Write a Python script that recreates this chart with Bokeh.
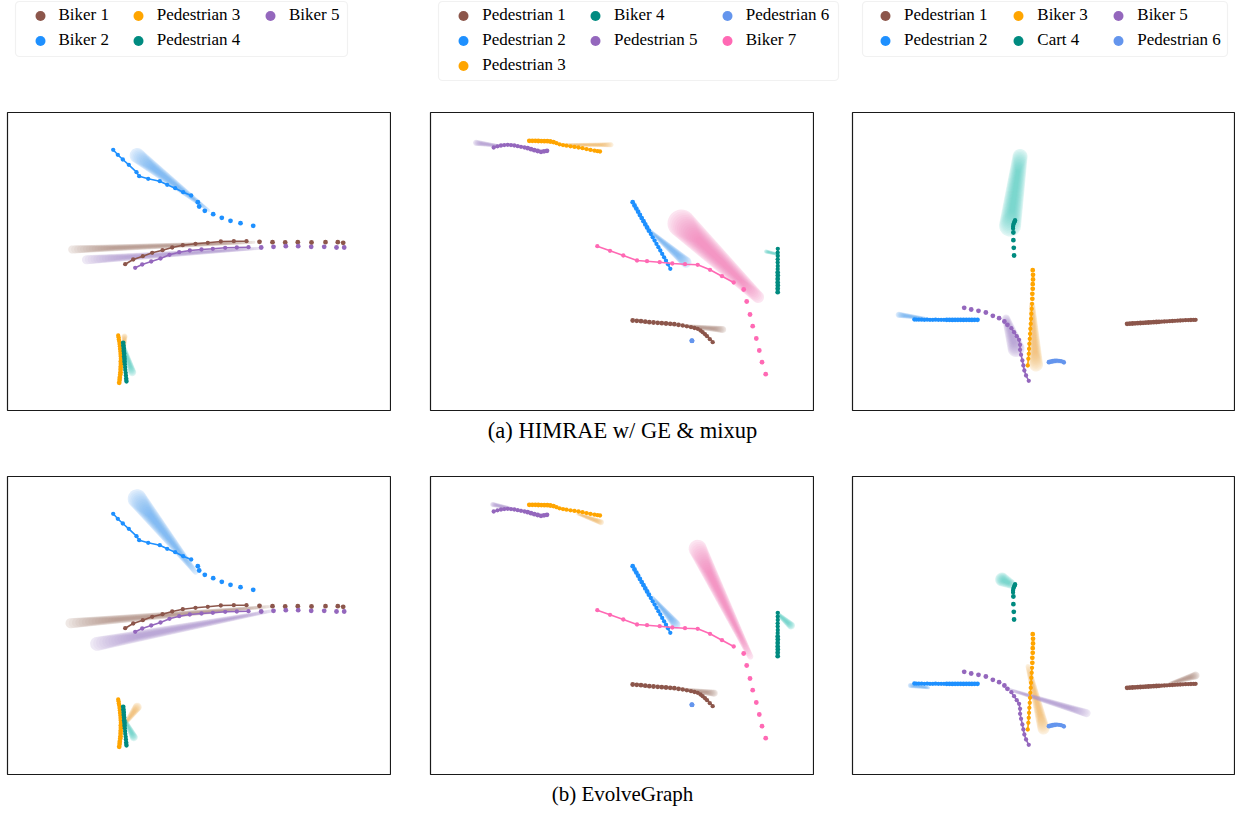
import math
from bokeh.plotting import figure
from bokeh.models import Range1d, Legend, LegendItem, Title, ColumnDataSource, BoxAnnotation
from bokeh.layouts import column, row
from bokeh.embed import file_html
from bokeh.resources import INLINE

# ---------------------------------------------------------------- data
# Scene A (left column)
a_names = ["Biker 1", "Biker 2", "Pedestrian 3", "Pedestrian 4", "Biker 5"]
a_ids = [1, 2, 3, 4, 5]

a_biker1_past_x = [335.7, 330.3, 318.0, 304.0, 290.3, 277.7, 265.0, 252.0]
a_biker1_past_y = [167.7, 168.3, 168.3, 168.0, 168.3, 168.0, 168.3, 168.7]
a_biker1_fut_x = [239.0, 226.3, 213.3, 200.3, 188.0, 175.3, 164.7, 155.0, 144.7, 135.3, 125.7, 117.7]
a_biker1_fut_y = [169.3, 169.3, 169.0, 167.7, 166.7, 165.3, 163.0, 160.3, 157.7, 154.3, 151.0, 146.3]

a_biker2_past_x = [245.7, 233.0, 223.0, 214.3, 205.7, 197.3, 191.7, 190.3]
a_biker2_past_y = [184.7, 187.3, 189.7, 192.7, 196.3, 199.7, 204.0, 208.3]
a_biker2_fut_x = [183.7, 175.7, 167.7, 159.7, 152.3, 140.7, 131.7, 129.0, 121.3, 115.3, 110.3, 105.7]
a_biker2_fut_y = [215.0, 218.3, 222.3, 225.7, 229.3, 231.7, 234.3, 238.3, 245.7, 251.0, 255.7, 260.7]

a_ped3_past_x = [111.7, 112.1, 112.3, 112.8, 113.0, 113.1, 113.2, 113.4, 113.3]
a_ped3_past_y = [27.7, 30.5, 33.0, 35.9, 38.3, 41.2, 43.7, 46.5, 49.0]
a_ped3_fut_x = [113.3, 113.1, 113.0, 112.9, 112.5, 112.4, 112.0, 111.8, 111.3, 111.1, 110.7]
a_ped3_fut_y = [51.7, 54.2, 56.5, 59.1, 61.5, 64.2, 66.5, 69.1, 71.0, 73.2, 75.0]

a_ped4_past_x = [115.7, 115.9, 116.2, 116.3, 116.6, 116.7, 117.0, 117.1]
a_ped4_past_y = [67.7, 64.9, 62.3, 59.4, 56.9, 54.0, 51.5, 48.7]
a_ped4_fut_x = [117.3, 117.6, 117.8, 118.2, 118.4, 118.7, 118.8, 119.0]
a_ped4_fut_y = [46.2, 43.3, 40.6, 37.7, 35.0, 32.3, 30.6, 29.0]

a_biker5_past_x = [336.7, 329.0, 316.7, 303.7, 290.7, 278.3, 266.0, 253.7]
a_biker5_past_y = [163.0, 163.0, 163.7, 163.7, 164.3, 164.3, 163.7, 163.0]
a_biker5_fut_x = [241.0, 229.3, 217.7, 205.3, 194.0, 182.3, 171.7, 162.0, 153.0, 143.7, 134.7, 127.7]
a_biker5_fut_y = [163.3, 163.0, 162.7, 161.7, 161.0, 160.0, 158.3, 155.7, 152.0, 149.0, 146.0, 142.7]

# predicted densities: agent id, wide end (x0, y0), narrow end (x1, y1), widths w0, w1
a_top_dens_id = [1, 5, 2, 3, 4]
a_top_dens_x0 = [64.7, 79.0, 129.7, 117.0, 124.7]
a_top_dens_y0 = [161.0, 150.7, 255.0, 74.0, 38.3]
a_top_dens_x1 = [246.3, 253.0, 201.3, 116.3, 116.3]
a_top_dens_y1 = [168.3, 162.3, 200.0, 58.3, 65.0]
a_top_dens_w0 = [8, 9, 15, 6, 8]
a_top_dens_w1 = [3, 3, 3, 3, 3]

a_bot_dens_id = [1, 5, 2, 3, 4]
a_bot_dens_x0 = [63.0, 89.7, 129.7, 129.7, 126.3]
a_bot_dens_y0 = [151.3, 130.7, 275.7, 67.3, 37.3]
a_bot_dens_x1 = [263.0, 266.3, 188.0, 116.3, 117.0]
a_bot_dens_y1 = [168.0, 164.0, 202.3, 49.0, 55.7]
a_bot_dens_w0 = [10, 14, 19, 9, 8]
a_bot_dens_w1 = [3, 3, 5, 3, 3]

# Scene B (middle column)
b_names = ["Pedestrian 1", "Pedestrian 2", "Pedestrian 3", "Biker 4", "Pedestrian 5", "Pedestrian 6", "Biker 7"]
b_ids = [1, 2, 3, 4, 5, 6, 7]

b_ped1_past_x = [202.2, 206.3, 210.5, 214.7, 218.8, 223.0, 227.2, 231.3, 235.5, 239.7, 243.8, 248.0]
b_ped1_past_y = [90.0, 89.7, 89.3, 88.8, 88.3, 88.0, 87.7, 87.3, 87.0, 86.7, 86.3, 85.7]
b_ped1_fut_x = [252.2, 256.3, 260.5, 264.0, 267.2, 270.0, 272.2, 274.5, 276.5, 279.3, 282.2]
b_ped1_fut_y = [85.0, 84.2, 83.3, 82.5, 81.7, 80.0, 78.3, 76.3, 74.3, 71.3, 68.3]

b_ped2_past_x = [202.2, 204.0, 205.8, 207.6, 209.4, 211.2, 213.0, 214.8, 216.6, 218.4]
b_ped2_past_y = [208.3, 205.0, 201.9, 198.8, 195.6, 192.4, 189.3, 186.1, 183.0, 179.8]
b_ped2_fut_x = [220.3, 222.2, 224.1, 226.0, 227.9, 229.8, 231.7, 233.6, 235.5, 237.5, 239.8]
b_ped2_fut_y = [176.5, 173.2, 169.9, 166.6, 163.3, 160.0, 156.6, 153.2, 149.8, 146.2, 141.7]

b_ped3_past_x = [98.8, 101.8, 104.8, 107.8, 110.8, 113.8, 116.8, 119.8, 123.0]
b_ped3_past_y = [269.7, 269.7, 269.7, 269.5, 269.4, 269.3, 269.3, 269.0, 268.4]
b_ped3_fut_x = [126.0, 129.0, 132.5, 136.0, 140.0, 144.0, 148.0, 152.0, 156.0, 160.0, 164.0, 167.0, 169.5]
b_ped3_fut_y = [267.3, 266.2, 265.4, 264.8, 264.2, 263.6, 263.0, 262.3, 261.4, 260.6, 259.8, 259.3, 259.0]

b_biker4_past_x = [347.2, 347.2, 347.3, 347.2, 347.2, 347.3, 347.2]
b_biker4_past_y = [118.3, 121.8, 125.0, 128.1, 131.6, 134.9, 138.0]
b_biker4_fut_x = [347.2, 347.3, 347.2, 347.2, 347.3, 347.2, 347.3]
b_biker4_fut_y = [141.5, 144.6, 148.1, 151.2, 154.5, 157.9, 161.7]

b_ped5_past_x = [116.5, 113.5, 110.5, 107.2, 103.8, 100.5, 97.2]
b_ped5_past_y = [259.7, 259.2, 258.7, 259.5, 260.3, 261.3, 262.3]
b_ped5_fut_x = [94.0, 90.5, 87.2, 83.8, 80.5, 77.2, 73.8, 70.5, 67.0, 63.2]
b_ped5_fut_y = [263.0, 263.7, 264.3, 265.0, 265.4, 265.7, 265.4, 265.0, 264.2, 263.0]

b_ped6_past_x = [261.3, 261.5]
b_ped6_past_y = [69.8, 69.7]
b_ped6_fut_x = [261.5, 261.7]
b_ped6_fut_y = [69.7, 69.6]

b_biker7_past_x = [335.2, 331.5, 328.8, 325.8, 322.2, 319.5, 316.2, 313.2]
b_biker7_past_y = [36.3, 48.3, 60.0, 72.0, 84.3, 96.0, 109.0, 121.0]
b_biker7_fut_x = [303.2, 291.5, 279.5, 267.2, 254.5, 241.8, 229.2, 216.5, 206.5, 192.8, 179.5, 166.8]
b_biker7_fut_y = [128.0, 134.3, 140.7, 145.7, 146.3, 147.0, 148.3, 149.3, 150.0, 155.0, 159.7, 164.3]

b_top_dens_id = [7, 2, 4, 1, 3, 5]
b_top_dens_x0 = [251.0, 255.5, 335.5, 292.2, 180.5, 45.5]
b_top_dens_y0 = [187.0, 148.3, 159.0, 81.0, 265.7, 267.7]
b_top_dens_x1 = [327.5, 217.2, 348.0, 250.5, 133.8, 70.5]
b_top_dens_y1 = [113.5, 181.7, 156.0, 85.0, 265.7, 264.3]
b_top_dens_w0 = [28, 11, 4, 7, 5, 6]
b_top_dens_w1 = [12, 3, 3, 3, 3, 3]

b_bot_dens_id = [7, 2, 4, 1, 3, 5]
b_bot_dens_x0 = [267.2, 245.5, 360.5, 283.8, 170.5, 62.2]
b_bot_dens_y0 = [225.7, 150.0, 149.0, 81.3, 252.3, 270.0]
b_bot_dens_x1 = [319.8, 222.2, 346.5, 247.2, 147.2, 78.8]
b_bot_dens_y1 = [118.0, 177.3, 161.3, 85.7, 260.7, 266.7]
b_bot_dens_w0 = [18, 9, 8, 7, 6, 5]
b_bot_dens_w1 = [6, 3, 4, 3, 3, 3]

# Scene C (right column)
c_names = ["Pedestrian 1", "Pedestrian 2", "Biker 3", "Cart 4", "Biker 5", "Pedestrian 6"]
c_ids = [1, 2, 3, 4, 5, 6]

c_ped1_past_x = [275.3, 278.0, 280.7, 283.3, 286.0, 288.7, 291.3, 294.0, 296.7, 299.3, 302.0, 304.7, 307.3]
c_ped1_past_y = [86.7, 86.8, 87.0, 87.2, 87.3, 87.5, 87.7, 87.8, 88.0, 88.2, 88.3, 88.5, 88.7]
c_ped1_fut_x = [310.0, 312.7, 315.3, 318.0, 320.7, 323.3, 326.0, 328.7, 331.3, 334.0, 336.7, 339.3, 342.0, 344.0]
c_ped1_fut_y = [88.8, 89.0, 89.2, 89.3, 89.5, 89.7, 89.8, 90.0, 90.2, 90.3, 90.4, 90.5, 90.6, 90.7]

c_ped2_past_x = [125.3, 122.5, 119.7, 116.9, 114.1, 111.3, 108.5, 105.7, 102.9, 100.1, 97.3, 94.5]
c_ped2_past_y = [90.7, 90.7, 90.6, 90.7, 90.7, 90.6, 90.7, 90.7, 90.7, 90.6, 90.7, 90.7]
c_ped2_fut_x = [91.7, 88.9, 86.1, 83.3, 80.5, 77.7, 74.9, 72.1, 69.3, 66.5, 64.0, 62.0]
c_ped2_fut_y = [90.7, 90.7, 90.7, 90.8, 90.7, 90.7, 90.8, 90.7, 90.8, 90.8, 90.9, 91.0]

c_biker3_past_x = [180.7, 181.0, 181.0, 180.7, 180.7, 180.3, 180.3]
c_biker3_past_y = [140.3, 135.7, 131.0, 126.3, 121.7, 116.7, 111.7]
c_biker3_fut_x = [180.0, 179.7, 179.3, 179.0, 178.7, 178.3, 178.0, 177.7, 177.3, 177.0, 176.7, 176.3, 175.7]
c_biker3_fut_y = [106.7, 101.7, 96.7, 91.7, 86.7, 81.7, 76.7, 71.7, 66.7, 61.7, 56.7, 51.7, 45.0]

c_cart4_past_x = [162.0, 161.7, 161.3, 161.3]
c_cart4_past_y = [155.0, 162.7, 170.3, 178.0]
c_cart4_fut_x = [161.0, 161.0, 161.3, 161.7, 162.3, 162.7, 163.0]
c_cart4_fut_y = [182.0, 184.0, 185.7, 187.0, 188.3, 189.3, 190.3]

c_biker5_past_x = [112.0, 119.0, 126.3, 133.7, 140.7, 147.0, 152.3, 155.3]
c_biker5_past_y = [102.7, 101.0, 99.7, 98.0, 94.7, 92.3, 89.0, 85.7]
c_biker5_fut_x = [159.3, 162.0, 164.7, 167.0, 168.0, 168.0, 169.0, 170.3, 171.3, 172.3, 174.0, 176.7]
c_biker5_fut_y = [82.3, 78.3, 74.3, 70.7, 65.7, 60.7, 55.7, 50.0, 45.0, 40.0, 35.0, 29.7]

c_ped6_past_x = [197.0, 199.0, 201.0, 203.0]
c_ped6_past_y = [48.3, 48.8, 49.3, 49.7]
c_ped6_fut_x = [205.0, 207.0, 209.0, 211.0, 212.0]
c_ped6_fut_y = [49.8, 49.7, 49.3, 48.7, 48.0]

c_top_dens_id = [4, 3, 5, 2, 6]
c_top_dens_x0 = [158.0, 184.0, 164.0, 46.3, 197.0]
c_top_dens_y0 = [185.0, 46.0, 62.0, 95.7, 49.0]
c_top_dens_x1 = [168.0, 180.0, 154.0, 74.7, 212.0]
c_top_dens_y1 = [254.0, 106.0, 92.0, 91.7, 49.0]
c_top_dens_w0 = [22, 14, 17, 6, 4]
c_top_dens_w1 = [15, 6, 8, 3, 4]

c_bot_dens_id = [4, 3, 5, 1, 2]
c_bot_dens_x0 = [150.0, 191.5, 234.7, 344.0, 58.0]
c_bot_dens_y0 = [195.0, 46.0, 61.3, 99.0, 89.0]
c_bot_dens_x1 = [158.0, 176.0, 154.7, 318.0, 76.3]
c_bot_dens_y1 = [191.0, 108.0, 85.7, 91.0, 86.7]
c_bot_dens_w0 = [14, 12, 8, 8, 5]
c_bot_dens_w1 = [10, 5, 3, 3, 3]

captions = ["(a) HIMRAE w/ GE & mixup", "(b) EvolveGraph"]

# ---------------------------------------------------------------- style
COLORS = {1: "#8c564b", 2: "#1e90ff", 3: "#ffa500", 4: "#008b80",
          5: "#9467bd", 6: "#6495ed", 7: "#ff69b4"}
DENS = {1: "#b08a7e", 2: "#6aaaf2", 3: "#f2b766", 4: "#62d3c9",
        5: "#ab92cc", 6: "#94b4f2", 7: "#f27cba"}
FONT = "Liberation Serif"
FRAME_H = 298
X_MAX, Y_MAX = 384, 298
STRIP_H = 111

a_trajs = [(1, a_biker1_past_x, a_biker1_past_y, a_biker1_fut_x, a_biker1_fut_y),
           (2, a_biker2_past_x, a_biker2_past_y, a_biker2_fut_x, a_biker2_fut_y),
           (3, a_ped3_past_x, a_ped3_past_y, a_ped3_fut_x, a_ped3_fut_y),
           (4, a_ped4_past_x, a_ped4_past_y, a_ped4_fut_x, a_ped4_fut_y),
           (5, a_biker5_past_x, a_biker5_past_y, a_biker5_fut_x, a_biker5_fut_y)]
b_trajs = [(1, b_ped1_past_x, b_ped1_past_y, b_ped1_fut_x, b_ped1_fut_y),
           (2, b_ped2_past_x, b_ped2_past_y, b_ped2_fut_x, b_ped2_fut_y),
           (3, b_ped3_past_x, b_ped3_past_y, b_ped3_fut_x, b_ped3_fut_y),
           (4, b_biker4_past_x, b_biker4_past_y, b_biker4_fut_x, b_biker4_fut_y),
           (5, b_ped5_past_x, b_ped5_past_y, b_ped5_fut_x, b_ped5_fut_y),
           (6, b_ped6_past_x, b_ped6_past_y, b_ped6_fut_x, b_ped6_fut_y),
           (7, b_biker7_past_x, b_biker7_past_y, b_biker7_fut_x, b_biker7_fut_y)]
c_trajs = [(1, c_ped1_past_x, c_ped1_past_y, c_ped1_fut_x, c_ped1_fut_y),
           (2, c_ped2_past_x, c_ped2_past_y, c_ped2_fut_x, c_ped2_fut_y),
           (3, c_biker3_past_x, c_biker3_past_y, c_biker3_fut_x, c_biker3_fut_y),
           (4, c_cart4_past_x, c_cart4_past_y, c_cart4_fut_x, c_cart4_fut_y),
           (5, c_biker5_past_x, c_biker5_past_y, c_biker5_fut_x, c_biker5_fut_y),
           (6, c_ped6_past_x, c_ped6_past_y, c_ped6_fut_x, c_ped6_fut_y)]


def capsule(x0, y0, x1, y1, w0, w1, n=16):
    dx, dy = x1 - x0, y1 - y0
    L = math.hypot(dx, dy) or 1.0
    ux, uy = dx / L, dy / L
    nx, ny = -uy, ux
    r0, r1 = w0 / 2.0, w1 / 2.0
    xs, ys = [], []
    for i in range(n + 1):
        a = math.pi / 2 - math.pi * i / n
        xs.append(x1 + r1 * (math.sin(a) * nx + math.cos(a) * ux))
        ys.append(y1 + r1 * (math.sin(a) * ny + math.cos(a) * uy))
    for i in range(n + 1):
        a = -math.pi / 2 - math.pi * i / n
        xs.append(x0 + r0 * (math.sin(a) * nx + math.cos(a) * ux))
        ys.append(y0 + r0 * (math.sin(a) * ny + math.cos(a) * uy))
    return xs, ys


def density_source(ids, x0s, y0s, x1s, y1s, w0s, w1s, layers=16):
    xs_all, ys_all, cols, alphas = [], [], [], []
    for aid, x0, y0, x1, y1, w0, w1 in zip(ids, x0s, y0s, x1s, y1s, w0s, w1s):
        cx, cy = (x0 + x1) / 2.0, (y0 + y1) / 2.0
        for k in range(layers):
            t = k / (layers - 1)
            f = 1.0 - 0.8 * t
            g = 1.0 - 0.45 * t
            xs, ys = capsule(cx + (x0 - cx) * g, cy + (y0 - cy) * g,
                             cx + (x1 - cx) * g, cy + (y1 - cy) * g,
                             w0 * f, w1 * f)
            xs_all.append(xs)
            ys_all.append(ys)
            cols.append(DENS[aid])
            alphas.append(0.2 if k == 0 else 0.085)
    return ColumnDataSource(dict(xs=xs_all, ys=ys_all, color=cols, alpha=alphas))


def make_panel(trajs, dens, left, fw, bottom, caption=None, cap_size="21px", cap_offset=0):
    p = figure(frame_width=fw, frame_height=FRAME_H,
               x_range=Range1d(0, X_MAX), y_range=Range1d(0, Y_MAX),
               toolbar_location=None, output_backend="svg",
               x_axis_location=None, y_axis_location=None,
               min_border_left=left, min_border_right=0,
               min_border_top=1, min_border_bottom=bottom)
    p.grid.visible = False
    p.outline_line_color = "#1a1a1a"
    p.outline_line_width = 1.2
    p.patches(xs="xs", ys="ys", fill_color="color", fill_alpha="alpha",
              line_color=None, source=density_source(*dens))
    for aid, px, py, fx, fy in trajs:
        c = COLORS[aid]
        p.scatter(px, py, size=4.8, color=c, line_color=None)
        p.line(fx, fy, line_color=c, line_width=1.6)
        p.scatter(fx, fy, size=4.3, color=c, line_color=None)
    if caption:
        t = Title(text=caption, align="center", text_font=FONT,
                  text_font_size=cap_size, text_font_style="normal",
                  text_color="black", standoff=11, offset=cap_offset)
        p.add_layout(t, "below")
    return p


# ---------------------------------------------------------------- legend strip
strip = figure(width=1235, height=STRIP_H, x_range=Range1d(0, 1235), y_range=Range1d(0, STRIP_H),
               toolbar_location=None, output_backend="svg", min_border=0,
               x_axis_location=None, y_axis_location=None)
strip.grid.visible = False
strip.outline_line_color = None

ROW_H = 25


def add_legend(names, ids, box, dot_x):
    left, right, top, bottom = box
    strip.add_layout(BoxAnnotation(left=left, right=right, top=STRIP_H - top,
                                   bottom=STRIP_H - bottom, fill_color="white",
                                   fill_alpha=1.0, line_color="#d0d0d0",
                                   line_width=1.2, level="annotation",
                                   border_radius=4))
    n, ncol = len(names), 3
    base, extra = divmod(n, ncol)
    sizes = [base + (1 if i < extra else 0) for i in range(ncol)]
    k = 0
    for c, s in enumerate(sizes):
        items = []
        for i in range(k, k + s):
            r = strip.scatter(x=[float("nan")], y=[float("nan")], size=10,
                              color=COLORS[ids[i]], line_color=None)
            items.append(LegendItem(label=names[i], renderers=[r]))
        k += s
        leg = Legend(items=items, location=(dot_x[c] - 15, STRIP_H - 2.5 - ROW_H * s),
                     orientation="vertical",
                     label_text_font=FONT, label_text_font_size="17px",
                     label_text_color="black", label_standoff=4,
                     glyph_width=30, glyph_height=ROW_H, label_height=ROW_H,
                     spacing=0, padding=0, margin=0,
                     border_line_color=None, background_fill_alpha=0.0)
        strip.add_layout(leg)


add_legend(a_names, a_ids, (15, 347, 1, 56), [39.5, 137.7, 270.0])
add_legend(b_names, b_ids, (438, 838, 1, 80), [463.3, 595.0, 726.7])
add_legend(c_names, c_ids, (862, 1227, 1, 56), [885.0, 1018.3, 1118.3])

# ---------------------------------------------------------------- panels
p1 = make_panel(a_trajs, (a_top_dens_id, a_top_dens_x0, a_top_dens_y0, a_top_dens_x1, a_top_dens_y1, a_top_dens_w0, a_top_dens_w1), 7, 384, 65)
p2 = make_panel(b_trajs, (b_top_dens_id, b_top_dens_x0, b_top_dens_y0, b_top_dens_x1, b_top_dens_y1, b_top_dens_w0, b_top_dens_w1), 39, 384, 65, captions[0], "22.5px", 6)
p3 = make_panel(c_trajs, (c_top_dens_id, c_top_dens_x0, c_top_dens_y0, c_top_dens_x1, c_top_dens_y1, c_top_dens_w0, c_top_dens_w1), 38, 383, 65)
p4 = make_panel(a_trajs, (a_bot_dens_id, a_bot_dens_x0, a_bot_dens_y0, a_bot_dens_x1, a_bot_dens_y1, a_bot_dens_w0, a_bot_dens_w1), 7, 384, 30)
p5 = make_panel(b_trajs, (b_bot_dens_id, b_bot_dens_x0, b_bot_dens_y0, b_bot_dens_x1, b_bot_dens_y1, b_bot_dens_w0, b_bot_dens_w1), 39, 384, 30, captions[1], "21px", 0)
p6 = make_panel(c_trajs, (c_bot_dens_id, c_bot_dens_x0, c_bot_dens_y0, c_bot_dens_x1, c_bot_dens_y1, c_bot_dens_w0, c_bot_dens_w1), 38, 383, 30)

layout = column(strip, row(p1, p2, p3), row(p4, p5, p6))

with open("out.html", "w") as f:
    f.write(file_html(layout, INLINE))
